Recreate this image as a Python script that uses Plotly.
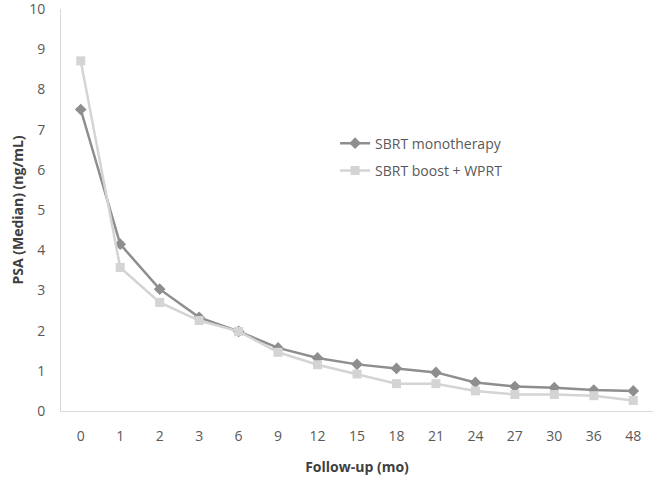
import plotly.graph_objects as go

months = ["0", "1", "2", "3", "6", "9", "12", "15", "18", "21", "24", "27", "30", "36", "48"]
mono = [7.5, 4.15, 3.03, 2.33, 1.98, 1.57, 1.32, 1.16, 1.06, 0.96, 0.71, 0.61, 0.58, 0.52, 0.5]
boost = [8.71, 3.57, 2.7, 2.25, 1.98, 1.46, 1.15, 0.92, 0.68, 0.68, 0.5, 0.41, 0.41, 0.38, 0.26]

font = "Open Sans"
fig = go.Figure()
fig.add_trace(go.Scatter(x=months, y=mono, name="SBRT monotherapy", mode="lines+markers",
                         legendgroup="a",
                         line=dict(color="#8e8e8e", width=2.5),
                         marker=dict(symbol="diamond", size=9, color="#8e8e8e")))
fig.add_trace(go.Scatter(x=months, y=boost, name="SBRT boost + WPRT", mode="lines+markers",
                         legendgroup="b",
                         line=dict(color="#d4d4d4", width=2.5),
                         marker=dict(symbol="square", size=9, color="#d4d4d4")))

fig.update_layout(
    width=656, height=482,
    margin=dict(l=61, r=3, t=9, b=71),
    plot_bgcolor="white", paper_bgcolor="white",
    font=dict(family=font, color="#595959", size=14),
    xaxis=dict(type="category", range=[-0.5, 14.5], showgrid=False, showline=True,
               automargin=False,
               linecolor="#d9d9d9", linewidth=1, ticks="", ticklabelstandoff=12,
               tickfont=dict(size=14, color="#595959"),
               title=dict(text="<b>Follow-up (mo)</b>", font=dict(size=14, color="#404040"), standoff=18)),
    yaxis=dict(range=[0, 10], dtick=1, showgrid=False, showline=True, zeroline=False,
               automargin=False, ticklabeloverflow="allow",
               linecolor="#d9d9d9", linewidth=1, ticks="", ticklabelstandoff=12,
               tickfont=dict(size=14, color="#595959"),
               title=dict(text="<b>PSA (Median) (ng/mL)</b>", font=dict(size=14, color="#404040"), standoff=2)),
    legend=dict(x=0.463, y=0.705, xanchor="left", yanchor="top", bgcolor="rgba(0,0,0,0)",
                font=dict(size=14, color="#595959"), traceorder="grouped", tracegroupgap=6, itemwidth=30),
    showlegend=True,
)
fig.write_html("out.html", config={"displayModeBar": False},
               post_script="document.body.style.margin='0';document.body.style.overflow='hidden';")
